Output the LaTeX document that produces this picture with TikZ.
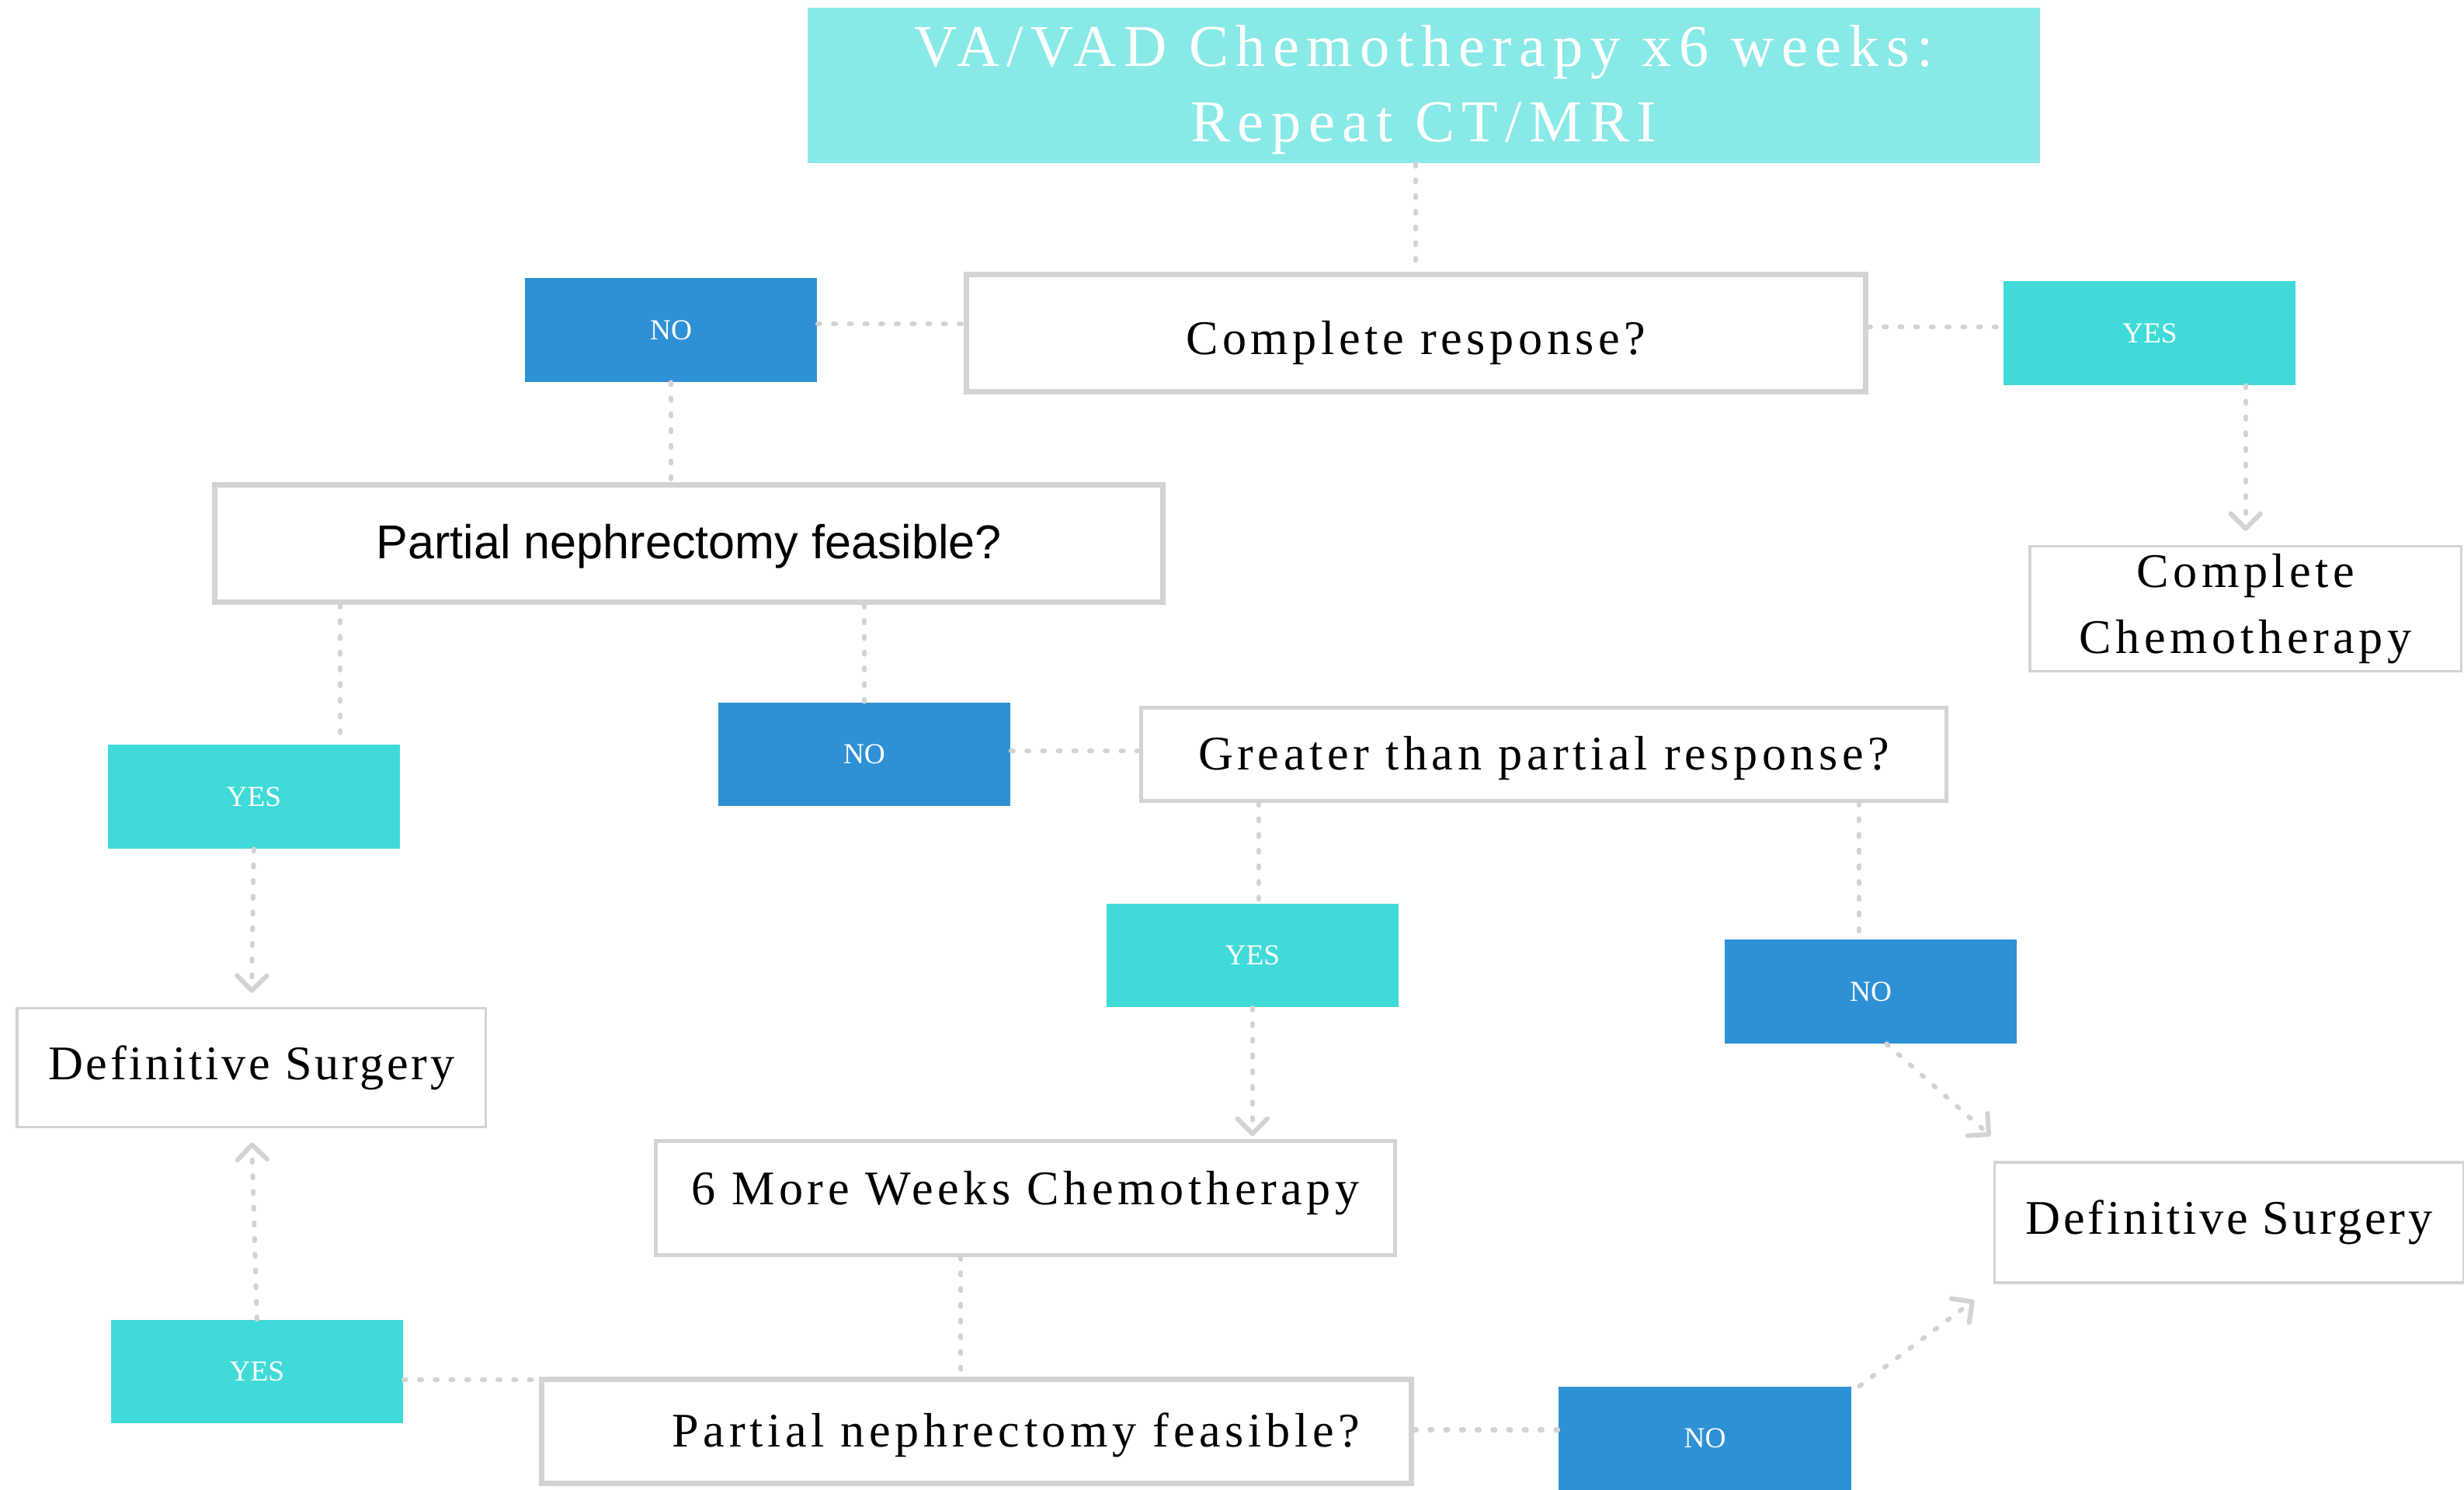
\documentclass[tikz,border=0pt]{standalone}
\usepackage{fontspec}
\setmainfont{Liberation Serif}
\newfontfamily\spaced[LetterSpace=9]{Liberation Serif}
\newfontfamily\tightspaced[LetterSpace=6]{Liberation Serif}
\newfontfamily\widespaced[LetterSpace=12.5]{Liberation Serif}
\newfontfamily\plainsans{Liberation Sans}
\usetikzlibrary{arrows.meta}
\definecolor{topcyan}{RGB}{137,233,231}
\definecolor{yescyan}{RGB}{64,218,216}
\definecolor{noblue}{RGB}{46,145,214}
\definecolor{boxgray}{RGB}{211,211,211}

\begin{document}
\begin{tikzpicture}[x=0.02cm,y=-0.02cm,
	box/.style={draw=boxgray, fill=white, line width=0.068cm, align=center, inner sep=0pt,
		font=\spaced\fontsize{17.5}{24}\selectfont},
	thinbox/.style={box, line width=0.034cm},
	yesbox/.style={fill=yescyan, text=white, inner sep=0pt, minimum width=3.72cm, minimum height=1.32cm,
		font=\fontsize{10.5}{12}\selectfont},
	nobox/.style={yesbox, fill=noblue},
	link/.style={draw=boxgray, line width=0.06cm, line cap=round, dash pattern=on 0.03cm off 0.17cm},
	arr/.style={link, -{Straight Barb[length=0.19cm, width=0.38cm, round]}, shorten >=0.18cm}]
	\useasboundingbox (0,0) rectangle (1568,948);

	% first round
	\node[fill=topcyan, text=white, inner sep=0pt, minimum width=15.68cm, minimum height=1.98cm, align=center,
		font=\widespaced\fontsize{21.5}{27.3}\selectfont] (top) at (906,54.5)
		{\raisebox{-0.05cm}[\height][\depth]{VA/VAD Chemotherapy x6 weeks:}\\\raisebox{-0.05cm}[\height][\depth]{Repeat CT/MRI}};
	\node[box, minimum width=11.45cm, minimum height=1.49cm] (cr) at (901,212)
		{\raisebox{-0.12cm}[\height][\depth]{Complete response?}};
	\node[nobox] (noA) at (427,210) {NO};
	\node[yesbox] (yesA) at (1368,212) {YES};
	\node[thinbox, minimum width=5.49cm, minimum height=1.59cm, font=\spaced\fontsize{17.5}{23.9}\selectfont] (cc) at (1429,387.5) {Complete\\Chemotherapy};
	\draw[link] (cr.north |- top.south) -- (cr.north);
	\draw[link] ([yshift=0.08cm]noA.east) -- ([yshift=0.08cm]noA.east -| cr.west);
	\draw[link] ([yshift=0.08cm]cr.east) -- ([yshift=0.08cm]cr.east -| yesA.west);
	\draw[arr] (cc.north |- yesA.south) -- (cc.north);

	% partial nephrectomy
	\node[box, minimum width=12.07cm, minimum height=1.49cm, font=\plainsans\fontsize{17.2}{20}\selectfont] (pnA) at (438.5,346)
		{\raisebox{-0.03cm}[\height][\depth]{Partial nephrectomy feasible?}};
	\node[yesbox] (yesB) at (161.5,507) {YES};
	\node[nobox] (noB) at (550,480) {NO};
	\node[thinbox, line width=0.05cm, minimum width=10.25cm, minimum height=1.19cm] (gpr) at (982.5,480)
		{\raisebox{-0.05cm}[\height][\depth]{Greater than partial response?}};
	\node[thinbox, minimum width=5.97cm, minimum height=1.51cm, font=\tightspaced\fontsize{17.5}{24}\selectfont] (dsA) at (160,679.5) {Definitive Surgery};
	\draw[link] (noA.south) -- (noA.south |- pnA.north);
	\draw[link] ([xshift=1.1cm]yesB.north |- pnA.south) -- ([xshift=1.1cm]yesB.north);
	\draw[link] (noB.north |- pnA.south) -- (noB.north);
	\draw[link] ([yshift=0.04cm]noB.east) -- ([yshift=0.04cm]noB.east -| gpr.west);
	\draw[arr] (yesB.south) -- (dsA.north);

	% greater than partial response
	\node[yesbox] (yesC) at (797,608) {YES};
	\node[nobox] (noC) at (1190.5,631) {NO};
	\node[box, line width=0.05cm, minimum width=9.41cm, minimum height=1.45cm] (mw) at (652.5,762.5)
		{\raisebox{0.06cm}[\height][\depth]{6 More Weeks Chemotherapy}};
	\node[thinbox, minimum width=5.97cm, minimum height=1.53cm, font=\tightspaced\fontsize{17.5}{24}\selectfont] (dsB) at (1418.5,778) {Definitive Surgery};
	\draw[link] ([xshift=0.08cm]yesC.north |- gpr.south) -- ([xshift=0.08cm]yesC.north);
	\draw[arr, shorten >=0.04cm] (yesC.south) -- (yesC.south |- mw.north);
	\draw[link] ([xshift=-0.15cm]noC.north |- gpr.south) -- ([xshift=-0.15cm]noC.north);
	\draw[arr] ([xshift=0.2cm]noC.south) -- ([xshift=0.1cm,yshift=0.2cm]dsB.north west);

	% second partial nephrectomy
	\node[box, minimum width=11.07cm, minimum height=1.33cm] (pnB) at (621.5,911)
		{\raisebox{-0.05cm}[\height][\depth]{\hspace*{1cm}Partial nephrectomy feasible?}};
	\node[yesbox] (yesD) at (163.5,873) {YES};
	\node[nobox] (noD) at (1085,915.5) {NO};
	\draw[link] ([xshift=-0.2cm]pnB.north |- mw.south) -- ([xshift=-0.2cm]pnB.north);
	\draw[link] ([yshift=-0.1cm]yesD.east) -- ([yshift=-0.1cm]yesD.east -| pnB.west);
	\draw[link] ([yshift=0.02cm]pnB.east) -- ([yshift=0.02cm]pnB.east -| noD.west);
	\draw[arr] (yesD.north) -- (dsA.south);
	\draw[arr] ([xshift=0.1cm]noD.north east) -- ([xshift=-0.1cm,yshift=-0.1cm]dsB.south west);
\end{tikzpicture}
\end{document}
